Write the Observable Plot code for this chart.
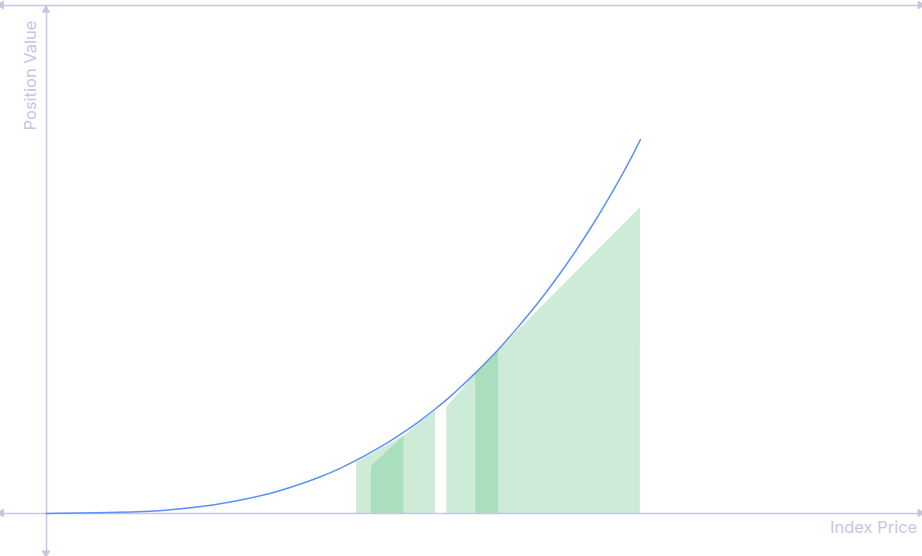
<!DOCTYPE html>
<html>
<head>
<meta charset="utf-8">
<script src="https://cdn.jsdelivr.net/npm/d3@7"></script>
<script src="https://cdn.jsdelivr.net/npm/@observablehq/plot@0.6"></script>
<style>
  html, body { margin: 0; padding: 0; background: #fff; }
  #chart svg { display: block; }
</style>
</head>
<body>
<div id="chart"></div>
<script>
// ---- data (arbitrary units: price 0..100, value 0..100) ----
const curvePrice = [0, 9.0, 13.6, 18.2, 22.1, 25.6, 28.4, 31.3, 33.6, 35.4, 37.1, 39.3, 40.8, 42.7, 44.4, 45.7, 47.3, 49.0, 50.7, 51.6, 53.5, 55.3, 57.0, 58.7, 60.4, 62.1, 63.8, 65.5, 66.7, 67.8];
const curveValue = [0, 0.2, 0.6, 1.4, 2.6, 3.9, 5.4, 7.2, 8.9, 10.5, 12.1, 14.3, 16.0, 18.3, 20.6, 22.4, 24.9, 27.7, 30.7, 32.3, 36.0, 39.7, 43.4, 47.4, 51.6, 56.1, 60.9, 66.0, 69.8, 73.6];

const lightAPrice = [35.4, 37.1, 40.8, 44.4];
const lightAValue = [10.1, 11.6, 15.2, 20.3];
const darkAPrice  = [37.1, 40.8];
const darkAValue  = [9.3, 15.2];
const lightBPrice = [45.7, 49.0, 51.6, 67.8];
const lightBValue = [20.9, 27.4, 32.1, 60.2];
const darkBPrice  = [49.0, 51.6];
const darkBValue  = [27.4, 32.1];

const xLabel = "Index Price";
const yLabel = "Position Value";

// ---- tables ----
const curve = curvePrice.map((x, i) => ({x, y: curveValue[i]}));
const toRows = (xs, ys, band) => xs.map((x, i) => ({x, y: ys[i], band}));
const lightBands = [...toRows(lightAPrice, lightAValue, "A"), ...toRows(lightBPrice, lightBValue, "B")];
const darkBands  = [...toRows(darkAPrice, darkAValue, "A"), ...toRows(darkBPrice, darkBValue, "B")];

const W = 922, H = 556;
const xDomain = [-5.25, 100];
const yDomain = [-8.46, 100.98];
const axisColor = "#c6c6e2";

// axis spans (data units)
const xSpan = [-5.1, 99.8];
const ySpan = [-7.9, 100];
const hLines = [{y: 0}, {y: 100}];

const heads = [
  ...hLines.flatMap(d => [
    {x: xSpan[0], y: d.y, rot: -90, dx: 5, dy: 0},
    {x: xSpan[1], y: d.y, rot: 90, dx: -5, dy: 0}
  ]),
  {x: 0, y: ySpan[1] - 1.0, rot: 0, dx: 0, dy: 5},
  {x: 0, y: ySpan[0], rot: 180, dx: 0, dy: -5}
];

const plot = Plot.plot({
  width: W,
  height: H,
  margin: 0,
  x: {domain: xDomain, axis: null},
  y: {domain: yDomain, axis: null},
  style: {fontFamily: "Inter, sans-serif", background: "#fff"},
  marks: [
    Plot.areaY(lightBands, {x: "x", y: "y", z: "band", fill: "#cdebd7", curve: "linear"}),
    Plot.areaY(darkBands, {x: "x", y: "y", z: "band", fill: "#a9dfbd", curve: "linear"}),
    Plot.ruleY(hLines, {y: "y", x1: xSpan[0], x2: xSpan[1], stroke: axisColor, strokeWidth: 1.5}),
    Plot.ruleX([0], {y1: ySpan[0], y2: ySpan[1], stroke: axisColor, strokeWidth: 1.5}),
    Plot.dot(heads, {x: "x", y: "y", rotate: "rot", dx: "dx", dy: "dy", symbol: "triangle", r: 3.3, fill: axisColor, stroke: null}),
    Plot.line(curve, {x: "x", y: "y", stroke: "#5b8ff9", strokeWidth: 1.5, curve: "basis"}),
    Plot.text([yLabel], {x: -1.8, y: 75.4, text: d => d, rotate: -90, textAnchor: "start", fill: axisColor, fontSize: 16.5}),
    Plot.text([xLabel], {x: 99.4, y: -2.8, text: d => d, textAnchor: "end", fill: axisColor, fontSize: 16.5})
  ]
});
document.getElementById("chart").appendChild(plot);
</script>
</body>
</html>
